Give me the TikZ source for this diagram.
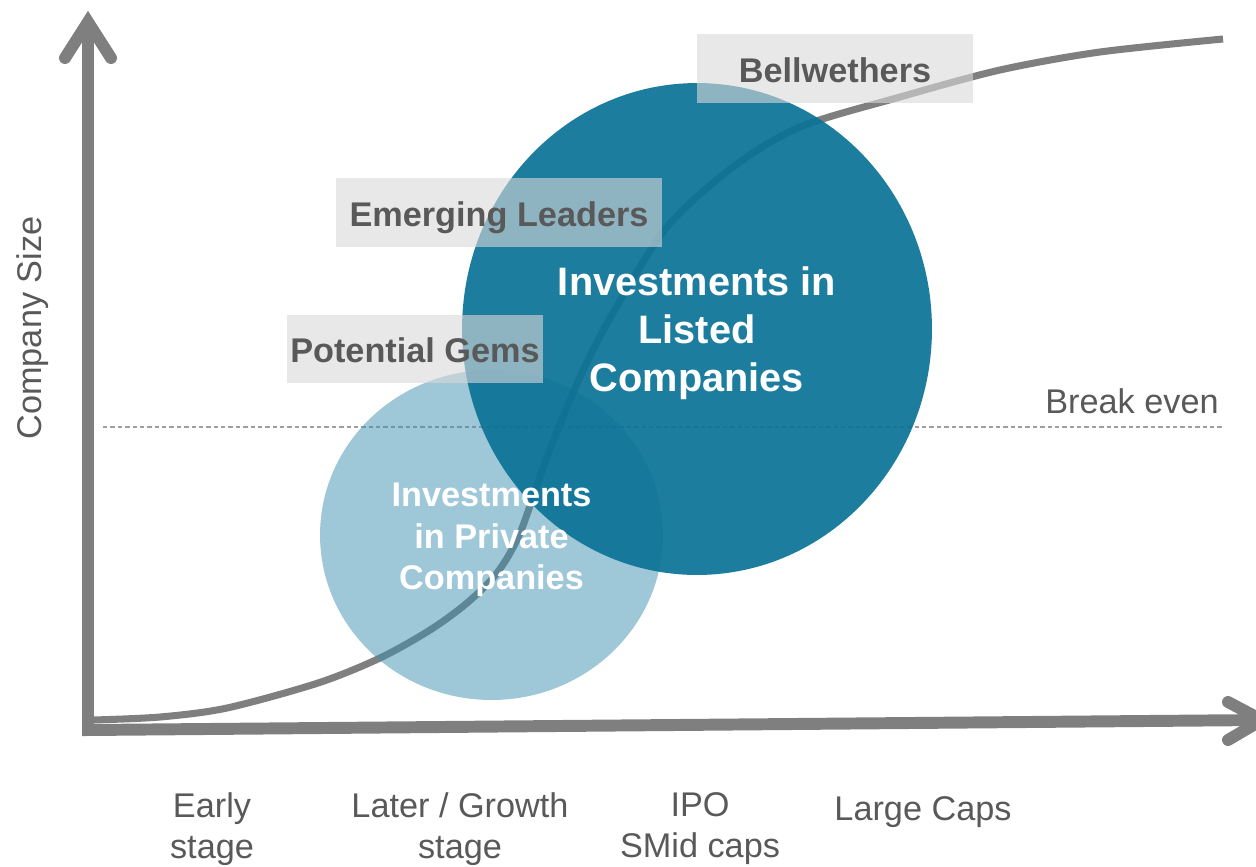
\documentclass[tikz,border=0pt]{standalone}
\usepackage{fontspec}
\setmainfont{Liberation Sans}
\usepackage{tikz}
\usetikzlibrary{positioning, shapes.geometric}
\definecolor{axisgray}{HTML}{7F7F7F}
\definecolor{labelgray}{HTML}{595959}
\definecolor{boxgray}{HTML}{D9D9D9}
\definecolor{listedblue}{HTML}{0A7296}
\definecolor{privateblue}{HTML}{3D8FB0}

\begin{document}
\begin{tikzpicture}[x=0.02cm, y=-0.02cm,
  axis/.style={axisgray, line width=6.8pt},
  tag/.style={fill=boxgray, fill opacity=0.6, text opacity=1, text=labelgray,
    font=\bfseries\fontsize{19.5}{23}\selectfont, inner sep=0pt,
    text height=15.7pt, text depth=0pt},
  stage/.style={text=labelgray, align=center, inner sep=0pt,
    font=\fontsize{19.5}{23.3}\selectfont},
  blob/.style={ellipse, inner sep=0pt, draw=none},
  blobtext/.style={text=white, align=center, inner sep=0pt}]
  \useasboundingbox (0,0) rectangle (1256,866);

  % break even line
  \draw[axisgray!75, line width=0.6pt, dash pattern=on 2.5pt off 1.7pt] (103,427) -- (1222,427);

  % growth curve
  \draw[axisgray, line width=4pt] plot[smooth, tension=0.5] coordinates {
    (93,720) (160,717) (227,708) (318,683) (380,658) (430,630) (467,603)
    (497,573) (520,533) (547,457) (580,377) (613,313) (667,227) (733,167)
    (800,127) (900,97) (1000,70) (1100,52) (1223,39)};

  % the two circles
  \node[blob, minimum width=6.86cm, minimum height=6.6cm, fill=privateblue, fill opacity=0.5] (private) at (491.5,535) {};
  \node[blob, minimum width=9.4cm, minimum height=9.84cm, fill=listedblue, fill opacity=0.92] (listed) at (697,329) {};

  % axes
  \draw[axis, line join=miter] (88,22) -- (88,730) -- (1262,720);
  \draw[axis, line cap=round, line join=miter] (65,58) -- (88,22) -- (111,58);
  \draw[axis, line cap=round, line join=miter] (1228,702) -- (1262,720) -- (1228,740);

  % stage labels
  \node[tag, minimum width=5.52cm, minimum height=1.38cm] (bellwethers) at (835,68.5) {Bellwethers};
  \node[tag, minimum width=6.52cm, minimum height=1.38cm] (leaders) at (499,212.5) {Emerging Leaders};
  \node[tag, minimum width=5.12cm, minimum height=1.36cm] (gems) at (415,349) {Potential Gems};

  % circle texts
  \node[blobtext, font=\bfseries\fontsize{22.6}{27.3}\selectfont] (listedtxt) at ([yshift=-0.08cm]listed.center)
    {Investments in\\Listed\\Companies};
  \node[blobtext, font=\bfseries\fontsize{19.5}{23.6}\selectfont] (privatetxt) at ([yshift=-0.1cm]private.center)
    {Investments\\in Private\\Companies};

  % axis texts
  \node[stage, rotate=90] (sizelbl) at (33,328) {Company Size};
  \node[stage, anchor=east] (breakeven) at (1219,401) {Break even};
  \node[stage] (early) at (212,829) {Early\\stage};
  \node[stage] (later) at (460,829) {Later / Growth\\stage};
  \node[stage] (ipo) at (700,829) {IPO\\SMid caps};
  \node[stage] (large) at (923,812) {Large Caps};
\end{tikzpicture}
\end{document}
